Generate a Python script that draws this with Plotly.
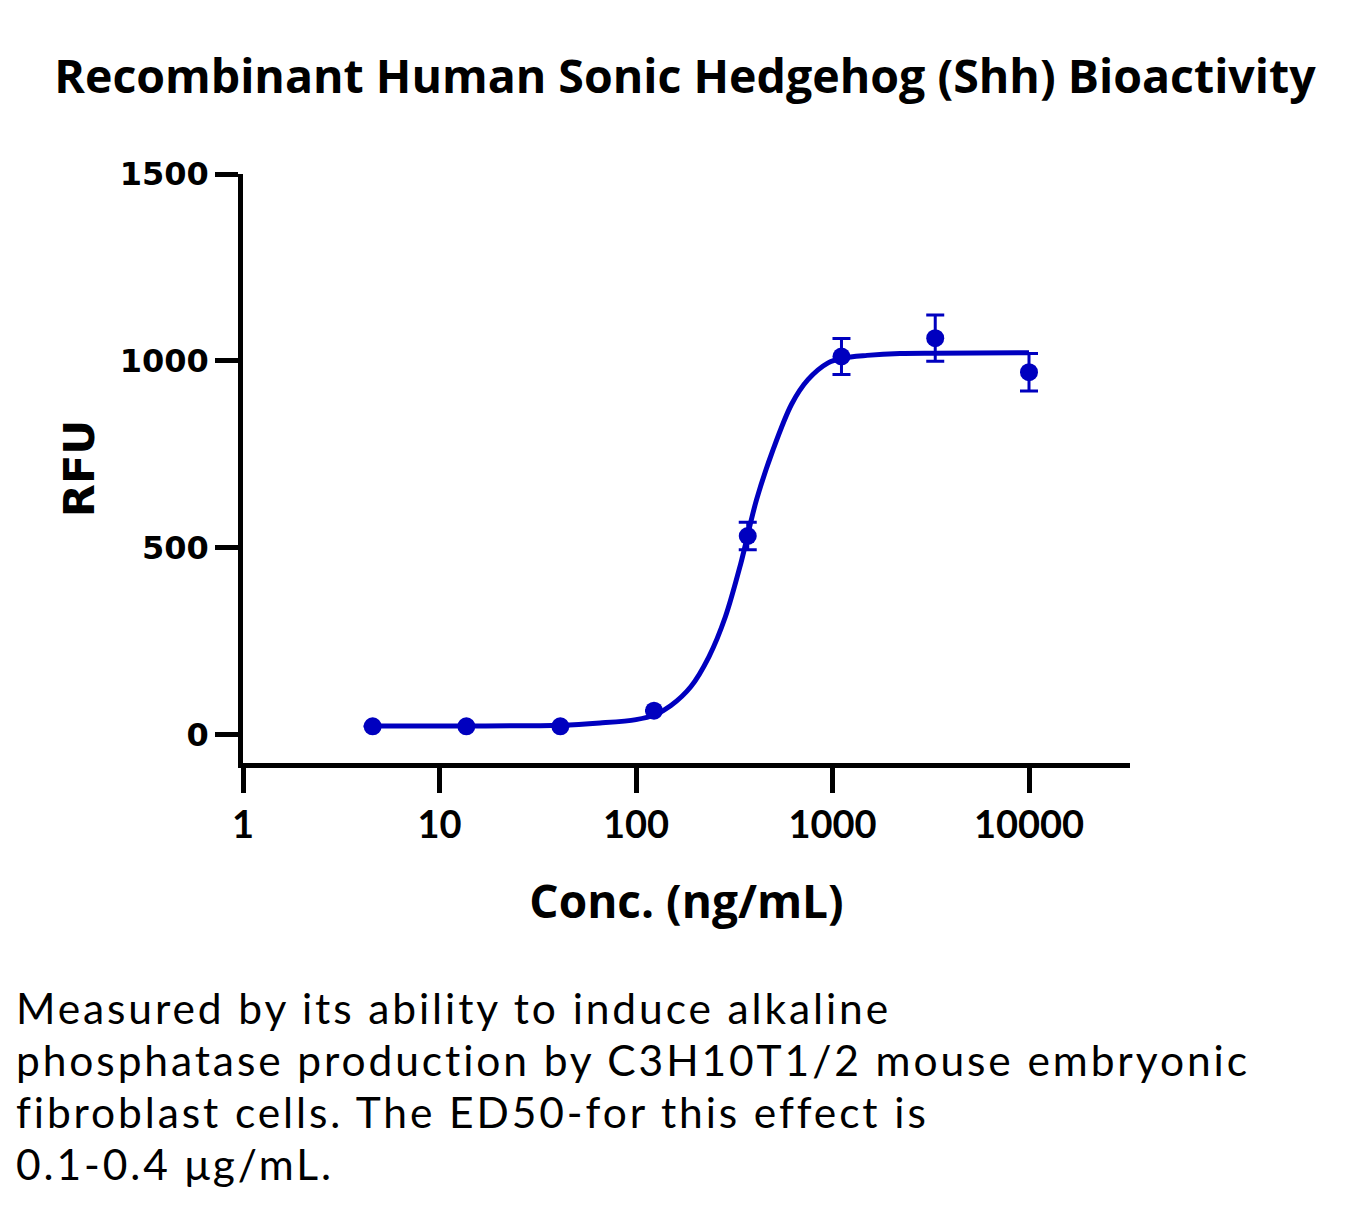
import plotly.graph_objects as go

# Measured points (3-fold dilution series)
conc = [4.57, 13.7, 41.2, 123.5, 370.4, 1111, 3333, 10000]
rfu = [23, 23, 23, 65, 532, 1012, 1061, 970]
rfu_err = [0, 0, 0, 0, 37, 48, 62, 50]

# Fitted curve
curve_x = [4.57, 13.7, 41.2, 65.6, 100, 125, 150, 190, 235, 285, 340, 410, 500, 620,
           750, 950, 1130, 1500, 2206, 3300, 10000]
curve_y = [24, 24, 26, 32, 41, 54, 78, 129, 209, 316, 455, 628, 765, 885,
           950, 995, 1008, 1015, 1020, 1021, 1022]

x_tickvals = [1, 10, 100, 1000, 10000]
x_ticktext = ["1", "10", "100", "1000", "10000"]
y_tickvals = [0, 500, 1000, 1500]

caption_lines = [
    "Measured by its ability to induce alkaline",
    "phosphatase production by C3H10T1/2 mouse embryonic",
    "fibroblast cells. The ED50-for this effect is",
    "0.1-0.4 μg/mL.",
]

BLUE = "#0000BF"

fig = go.Figure()
fig.add_trace(go.Scatter(
    x=curve_x, y=curve_y, mode="lines",
    line=dict(color=BLUE, width=5, shape="spline", smoothing=0.9),
    hoverinfo="skip", showlegend=False,
))
fig.add_trace(go.Scatter(
    x=conc, y=rfu, mode="markers",
    marker=dict(color=BLUE, size=18),
    error_y=dict(type="data", array=rfu_err, visible=True, color=BLUE, thickness=3, width=9),
    showlegend=False,
))

# plot area in pixels: left 243, right 1130, top 174, bottom 763
PL, PR, PT, PB = 243, 1130, 174, 763
def px_x(p):
    return (p - PL) / (PR - PL)
def px_y(p):
    return (PB - p) / (PB - PT)

# one text block; base size 40 sets the line spacing (1.3 em = 52 px)
caption_text = "<br>".join(
    '<span style="font-size:42.5px;letter-spacing:2.9px">%s</span>' % line
    for line in caption_lines
)

fig.update_layout(
    width=1359, height=1206,
    margin=dict(l=PL, r=1359 - PR, t=PT, b=1206 - PB),
    paper_bgcolor="white", plot_bgcolor="white",
    title=dict(
        text="Recombinant Human Sonic Hedgehog (Shh) Bioactivity",
        x=0.504, xanchor="center", y=0.936, yanchor="middle",
        font=dict(family="Open Sans", size=46.5, color="black", weight="bold"),
    ),
    xaxis=dict(
        type="log", range=[0, 4.514],
        tickvals=x_tickvals, ticktext=x_ticktext,
        showgrid=False, zeroline=False,
        showline=True, linecolor="black", linewidth=4.5,
        ticks="outside", ticklen=25, tickwidth=4.5, tickcolor="black",
        tickfont=dict(family="Lato", size=38, color="black", weight="bold"),
        title=dict(text="Conc. (ng/mL)", standoff=42,
                   font=dict(family="Open Sans", size=46, color="black", weight="bold")),
    ),
    yaxis=dict(
        range=[-75, 1500],
        tickvals=y_tickvals,
        showgrid=False, zeroline=False,
        showline=True, linecolor="black", linewidth=4.5,
        ticks="outside", ticklen=23, tickwidth=4.5, tickcolor="black",
        tickfont=dict(family="DejaVu Sans", size=32, color="black", weight="bold"),
        title=dict(text="RFU", standoff=13,
                   font=dict(family="DejaVu Sans", size=43, color="black", weight="bold")),
    ),
    annotations=[dict(
        text=caption_text, xref="paper", yref="paper",
        x=px_x(14), y=px_y(980), xanchor="left", yanchor="top", align="left",
        showarrow=False, font=dict(family="Lato", size=40, color="black"),
    )],
)

fig.write_html("out.html", config={"displayModeBar": False},
               post_script="document.body.style.margin='0';")
